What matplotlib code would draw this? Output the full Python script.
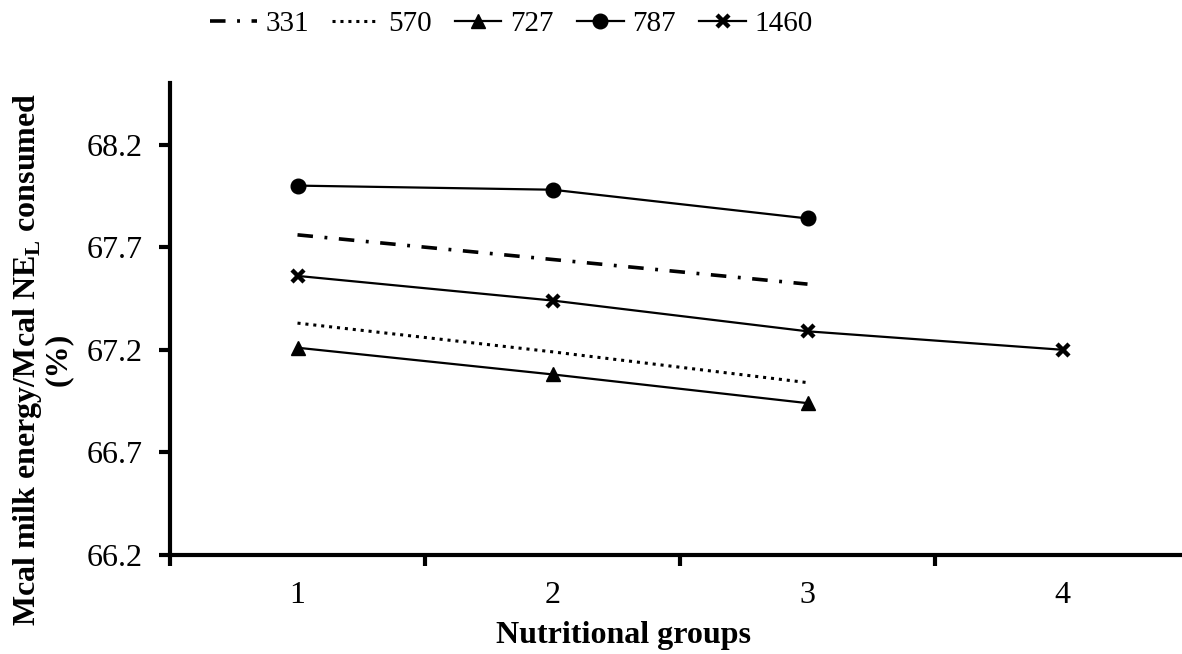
import matplotlib
matplotlib.use("Agg")
import matplotlib.pyplot as plt

plt.rcParams["font.family"] = ["Liberation Serif", "DejaVu Serif"]
plt.rcParams["mathtext.fontset"] = "custom"
plt.rcParams["mathtext.bf"] = "Liberation Serif:bold"
plt.rcParams["mathtext.rm"] = "Liberation Serif"

# Nutritional groups on the x axis
groups = [1, 2, 3, 4]
group_labels = ["1", "2", "3", "4"]

# Energy efficiency (%) per herd
herd_331 = [67.76, 67.64, 67.52]
herd_570 = [67.33, 67.19, 67.04]
herd_727 = [67.21, 67.08, 66.94]
herd_787 = [68.00, 67.98, 67.84]
herd_1460 = [67.56, 67.44, 67.29, 67.20]

y_ticks = [66.2, 66.7, 67.2, 67.7, 68.2]

W, H = 1182, 654
fig = plt.figure(figsize=(W / 100, H / 100), dpi=100)
ax = fig.add_axes([170 / W, 1 - 555 / H, (1190 - 170) / W, (555 - 83) / H])

ax.plot(groups[:3], herd_331, color="black", lw=2.6,
        linestyle=(0, (4.3, 3.2, 0.8, 3.2)), label="331")
ax.plot(groups[:3], herd_570, color="black", lw=2.2,
        linestyle=(0, (1, 1.6)), label="570")
ax.plot(groups[:3], herd_727, color="black", lw=1.6, marker="^",
        markersize=10.5, label="727")
ax.plot(groups[:3], herd_787, color="black", lw=1.6, marker="o",
        markersize=10.5, label="787")
ax.plot(groups, herd_1460, color="black", lw=1.6, marker="x",
        markersize=8, markeredgewidth=3.2, label="1460")

ax.set_xlim(0.5, 4.5)
ax.set_ylim(66.2, 68.5)

ax.set_xticks(groups)
ax.set_xticklabels(group_labels)
ax.set_xticks([0.5, 1.5, 2.5, 3.5, 4.5], minor=True)
ax.tick_params(axis="x", which="major", length=0, pad=19, labelsize=23)
ax.tick_params(axis="x", which="minor", length=8, width=3, direction="out")

ax.set_yticks(y_ticks)
ax.set_yticklabels([f"{v:.1f}" for v in y_ticks])
ax.tick_params(axis="y", length=8, width=3, direction="out", pad=12, labelsize=23)

for side in ("top", "right"):
    ax.spines[side].set_visible(False)
for side in ("left", "bottom"):
    ax.spines[side].set_linewidth(3)

fig.text(623 / W, 1 - 636 / H, "Nutritional groups", ha="center", va="center",
         fontsize=23, fontweight="bold")
fig.text(42 / W, 1 - 359 / H,
         "Mcal milk energy/Mcal NE$_\\mathbf{L}$ consumed\n(%)",
         rotation=90, ha="center", va="center", fontsize=23,
         fontweight="bold", multialignment="center", linespacing=1.0)

fig.legend(loc="upper left", bbox_to_anchor=(210 / W, 1 - 11 / H), ncol=5,
           frameon=False, fontsize=21, handlelength=1.6, handletextpad=0.3,
           columnspacing=0.8, borderaxespad=0, borderpad=0)

fig.savefig("out.png", dpi=100)
